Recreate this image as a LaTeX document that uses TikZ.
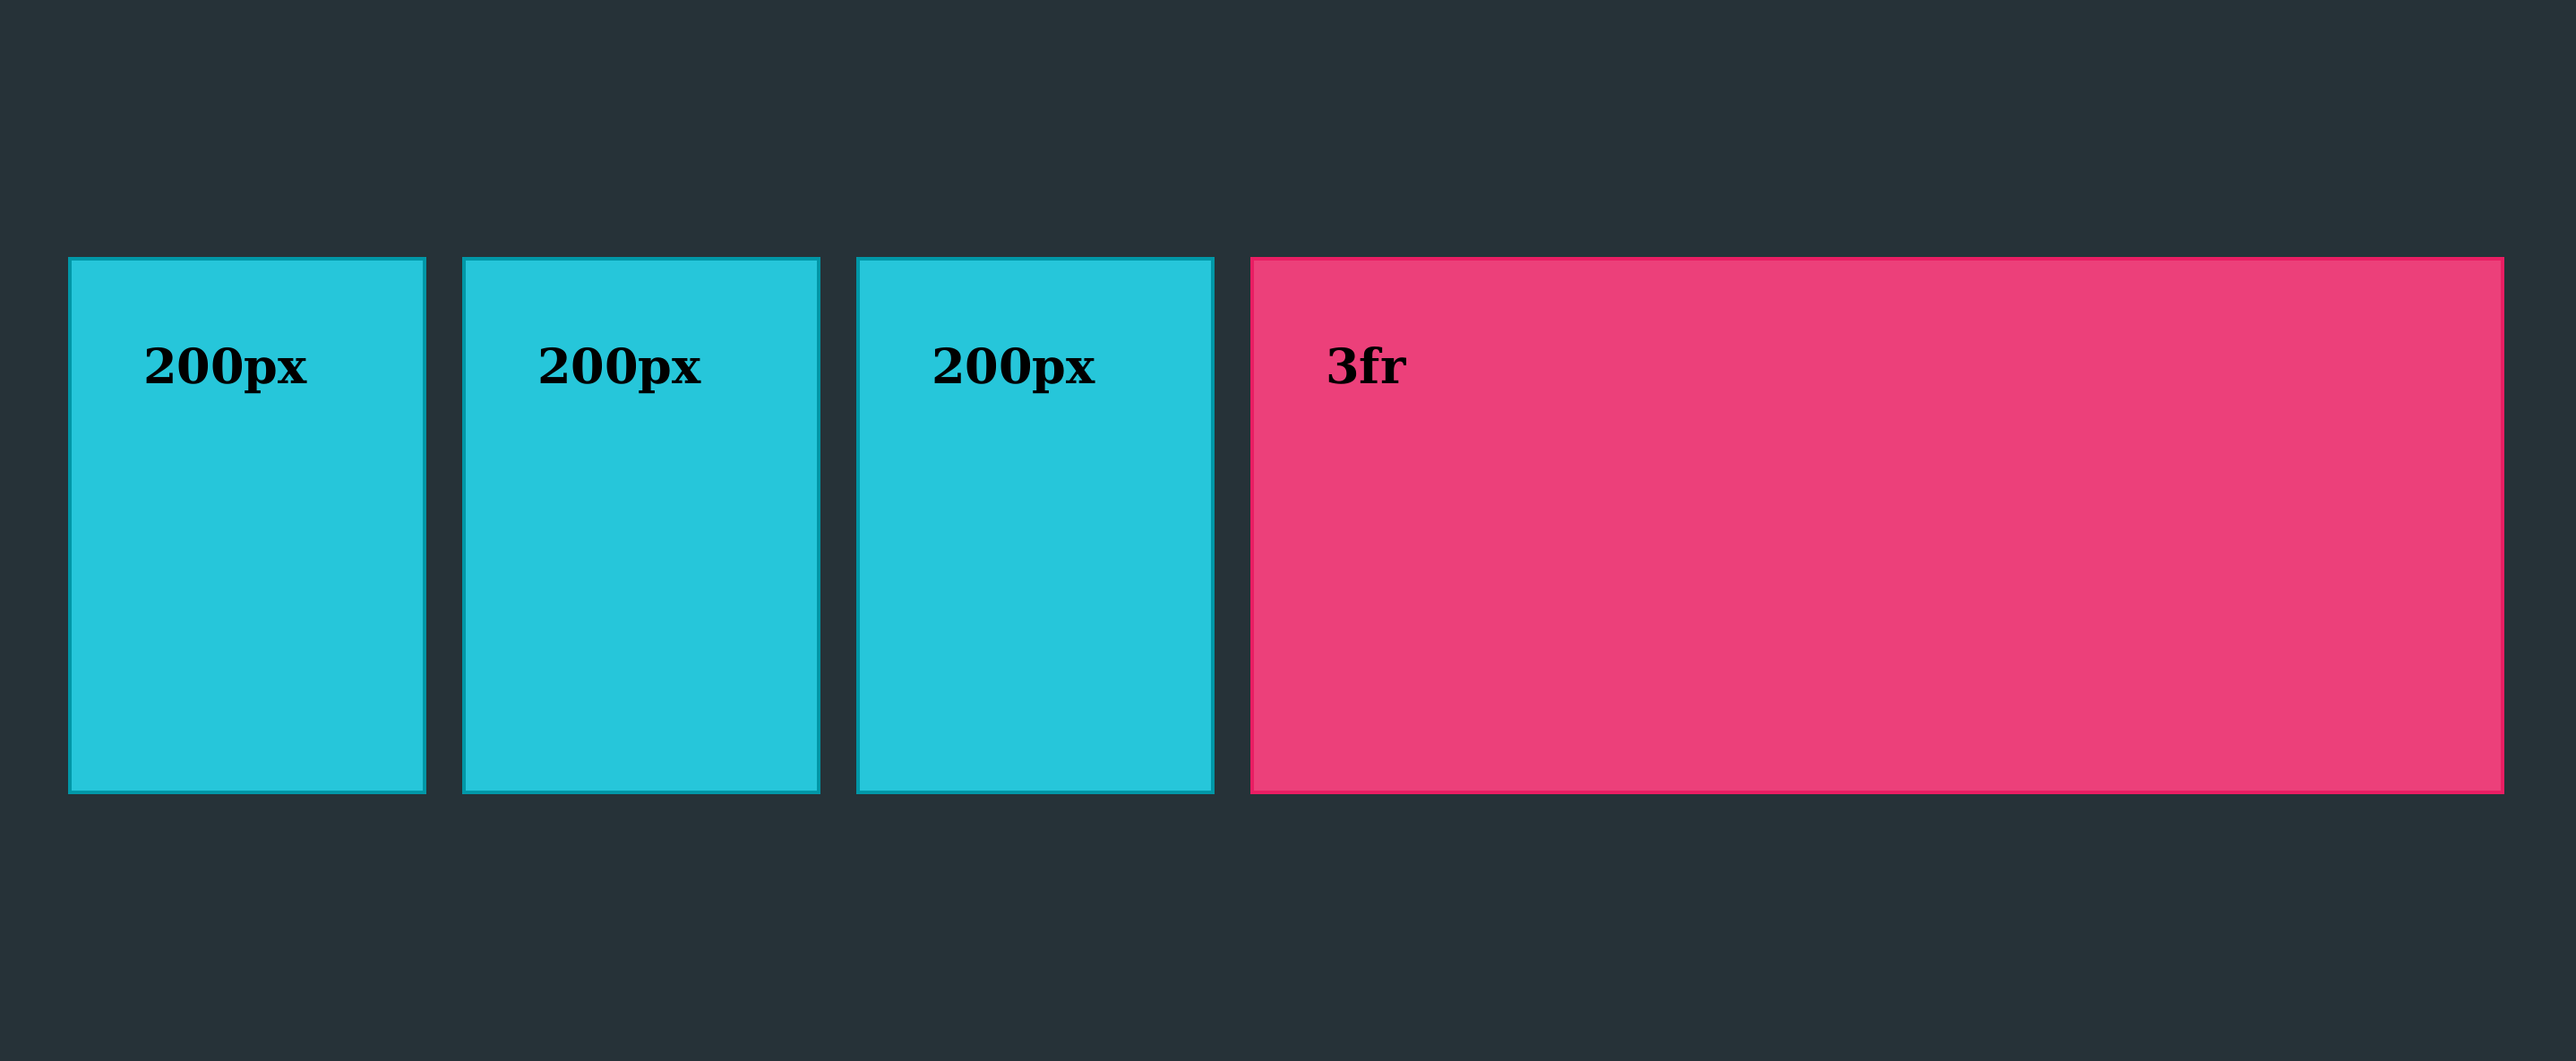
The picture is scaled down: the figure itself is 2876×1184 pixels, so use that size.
\documentclass[tikz,border=0pt]{standalone}
\usepackage{fontspec}
\setmainfont{DejaVu Serif}
\definecolor{bg}{HTML}{263238}
\definecolor{cyanfill}{HTML}{26C6DA}
\definecolor{cyanline}{HTML}{0097A7}
\definecolor{pinkfill}{HTML}{EC407A}
\definecolor{pinkline}{HTML}{E91E63}
\tikzset{
  cyancell/.style={draw=cyanline, fill=cyanfill, line width=4pt, inner sep=0pt, minimum width=396pt, minimum height=596pt},
  pinkcell/.style={draw=pinkline, fill=pinkfill, line width=4pt, inner sep=0pt, minimum width=1396pt, minimum height=596pt},
  celllabel/.style={anchor=base west, inner sep=0pt, text=black, font=\fontsize{54}{62}\selectfont\bfseries}
}
\begin{document}
\begin{tikzpicture}[x=1pt,y=1pt]
\useasboundingbox (0,0) rectangle (2876,1184);
\fill[bg] (-10,-10) rectangle (2886,1194);
\node[cyancell] (c1) at (276,597) {};
\node[cyancell] (c2) at (716,597) {};
\node[cyancell] (c3) at (1156,597) {};
\node[pinkcell] (c4) at (2096,597) {};
\node[celllabel] (l1) at (160,755) {200px};
\node[celllabel] (l2) at (600,755) {200px};
\node[celllabel] (l3) at (1040,755) {200px};
\node[celllabel] (l4) at (1480,755) {3fr};
\end{tikzpicture}
\end{document}
